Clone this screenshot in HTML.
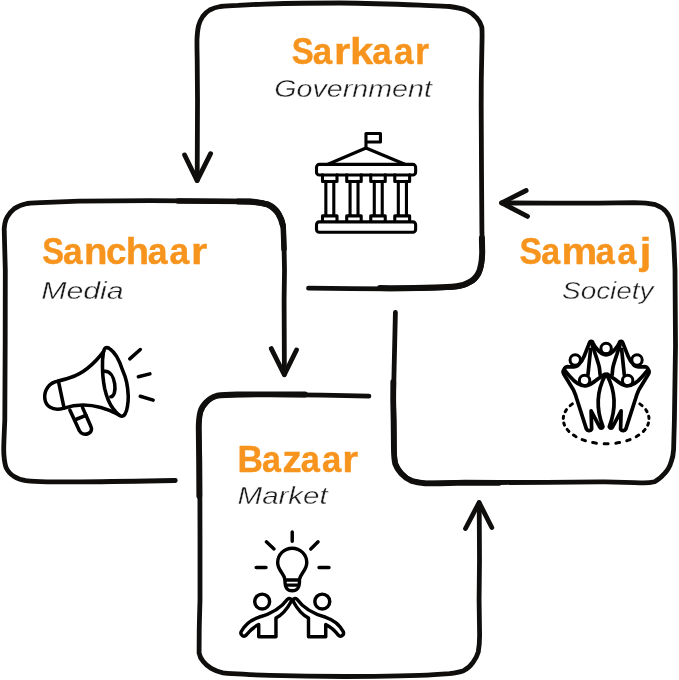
<!DOCTYPE html>
<html><head><meta charset="utf-8">
<style>
html,body{margin:0;padding:0;background:#fff;}
body{width:679px;height:680px;overflow:hidden;font-family:"Liberation Sans",sans-serif;}
svg{display:block;}
.ln{fill:none;stroke:#100e0c;stroke-width:4.8;stroke-linecap:round;stroke-linejoin:round;}
.ic{fill:none;stroke:#0a0a0a;stroke-width:2.2;stroke-linecap:round;stroke-linejoin:round;}
.t{font-family:"Liberation Sans",sans-serif;font-weight:bold;fill:#F7941D;font-size:36px;stroke:#F7941D;stroke-width:0.4px;}
.s{font-family:"Liberation Sans",sans-serif;font-style:italic;fill:#1c1c1c;font-size:23.9px;stroke:#fff;stroke-width:0.38px;}
</style></head>
<body>
<svg width="679" height="680" viewBox="0 0 679 680">
<rect width="679" height="680" fill="#fff"/>
<!-- SARKAAR PATH -->
<path class="ln" d="M197.2,180.5 L197.5,100 L197.2,60 C197,50 196.9,45 197,38.9 C197.3,33 197.8,29 198.5,25.9 C199.5,22 201,19 202.7,16.5 C204.5,14 207,11.5 209.7,10 C213,8.3 216.5,7.2 220.3,6.5 C226,5.8 232,5.5 238,5.3 C247,4.8 256,4.4 265,4.1 C290,3.4 315,3 340,3 C370,3.2 396,4.2 420,5.2 C432,5.7 442,6 449.5,6.5 C456,7.2 462,8.5 467.1,10.6 C471,12.3 474,14.7 476.5,17.7 C479,20.5 480.8,23.5 481.8,27.1 C482.3,31 482.1,40 481.9,47 L481.3,80 L481.2,106 L481.5,170 L481.9,231 L482.5,252 C482.6,262 481.5,268 478.9,273.6 C476.5,278 473.5,281 470,282.5 C466,285 461,286.3 456.8,286.9 C449,287.8 442,288 434.7,288.1 C430,288.3 425,288.5 420,288.7 C390,289 350,288.8 308.5,288.2"/>
<path class="ln" style="stroke-width:6" d="M380,288.1 C400,288.2 420,288 434.7,287.5 C442,287.4 449,287.2 456.6,286.3 C461,285.7 465.8,284.4 469.6,282 C473,280.5 476,277.6 478.4,273.3 C481,267.8 482,262 482.2,252 L481.9,238"/>
<path class="ln" d="M184.6,155 L197.1,180.6 L210.6,153.7"/>
<!-- SANCHAAR PATH -->
<path class="ln" d="M175.3,480.5 C150,481 120,481.6 80,481.8 L47,481.8 C40,481.7 33,481.5 25.9,480.7 C21.5,480 17.5,478.8 14.1,476.5 C10.5,474.3 7.8,471.5 5.9,467.1 C4.5,462.5 3.8,457 3.7,449.5 C3.8,442 4.3,432 4.8,420 L5.2,340 L5.3,270 C5,255 4.5,240 4.2,229 C4.5,224 5.5,220 7.1,217.1 C9,213.5 11.3,211 14.1,208.8 C18,206 22,204.5 27.1,203.5 C33,202.8 40,202.6 47.1,202.4 C58,201.9 69,201.5 80,201.2 C100,200.9 130,200.7 150,200.6 C190,200.7 225,201 250,201.4 C257,201.8 263,202.8 268,204.4 C272.5,206.5 276,209.5 278.6,213.6 C281,217.5 282.6,222 283.3,227.1 C283.8,235 283.9,245 284.1,249 L284.5,270 L284.1,300 L284.4,374.5"/>
<path class="ln" d="M271.3,348.6 L284.3,374.8 L296.5,350"/>
<path class="ln" style="stroke-width:5.5" d="M178,201 C200,201 225,201.2 250,201.6 C257,202 263,203 268,204.5 C272.5,206.6 276,209.6 278.5,213.7 C280.9,217.6 282.5,222 283.2,227.1 C283.7,235 283.8,245 284,249"/>
<path class="ln" style="stroke-width:6.2" d="M238,201.5 L250,201.7 C257,202.1 263,203.1 268,204.6 C272.5,206.7 276,209.7 278.4,213.8 C280.6,217.4 282,221 282.8,225"/>
<!-- BAZAAR PATH -->
<path class="ln" d="M368.9,396.2 C340,395.4 300,394.8 270,394.6 L237,394.8 C229,394.9 222.5,395 217.1,395.9 C212.5,397.3 209,399.5 206.5,402.4 C203.5,405.3 201.6,408.3 200.6,411.8 C199.5,416 199,421 199,427 C199.2,440 199.6,450 199.8,460 L200,540 L200,600 C199.6,615 199.2,625 199.2,635 L199.1,653 C199.8,656.5 201,659 203,661.2 C205.5,664.3 208,666.5 211.2,668.3 C215,670.5 219,672 223,672.8 C230,673.5 237,673.9 243,674.2 C253,674.8 262,675.2 270,675.4 C300,676.3 325,676.5 345,676.5 C390,676.4 420,675.6 434,674.6 C440,674.2 445,673.9 449.4,673.6 C455,673 460,672 463.6,670.7 C467.5,668.8 470.5,666 473,662.4 C475.5,659 477.3,655.5 478.3,651.8 C479.2,647 479.6,641 479.6,635.3 L479.1,600 L479.5,560 L479.2,503"/>
<path class="ln" style="stroke-width:5.8" d="M305,394.5 L270,394.3 L237,394.5 C229,394.6 222.5,394.8 217,395.7 C212.4,397.1 208.8,399.3 206.3,402.2 C203.3,405.1 201.4,408.2 200.4,411.7 C199.3,416 198.8,421 198.7,427 L199.1,460 L199.3,496"/>
<path class="ln" d="M465.5,528.5 L479.1,502.5 L491.8,527.5"/>
<!-- SAMAAJ PATH -->
<path class="ln" d="M501.6,203 C530,203 570,203.1 599,203.1 C615,203 625,202.8 634,202.7 C642,202.8 649,203.3 655.5,204.7 C660,206.2 663.5,208.7 666.1,211.8 C668.8,215 670.5,218.8 671.4,223 C672.5,229 673.2,236 673.8,243 L675,270 L675.5,346 C675.2,380 674.8,405 674.4,420 L673.6,449.5 C673.3,454 672.6,458 671.4,461.2 C670,466 668,470 665,473 C662,476.5 658.5,479.8 654.4,481.8 C650,483 645,483.1 640,482.9 L634.3,482.7 C620,482.3 610,482 599,481.8 C570,482.2 530,482.6 500,482.5 L465,482.3 C455,482.6 445,482.9 440,483 C435,483.2 430,483.2 425,483 C420,482.6 416,481.9 412.1,480.7 C408,479 404.5,476.5 401.5,473 C398.8,470 396.8,467 395.6,463.6 C394.7,459.5 394.4,455 394.3,449.5 L394,420 L393.4,400 L395.4,312.5"/>
<path class="ln" style="stroke-width:5.8" d="M393.3,382 L393.2,400 L393.6,420 L393.9,449.5 C394,455 394.3,459.5 395.2,463.7 C396.4,467.2 398.4,470.2 401.1,473.3 C404.2,476.8 407.8,479.3 411.9,481 C415.8,482.2 420,482.9 425,483.3 C430,483.5 435,483.5 440,483.3 C445,483.2 455,482.9 465,482.6 L499,482.8"/>
<path class="ln" d="M526.2,190.5 L501.6,202.9 L527.5,216.4"/>

<!-- GOVERNMENT ICON (coords in 5.658x zoom space, offset 305,125) -->
<g transform="translate(305,125) scale(0.17673)" fill="none" stroke="#000" stroke-width="17.5" stroke-linecap="round" stroke-linejoin="round">
  <path d="M345,125 V48 H427 V96 H345"/>
  <path d="M130,222 L345,130 L565,222"/>
  <rect x="65" y="223" width="561" height="60" rx="16"/>
  <rect x="65" y="548" width="561" height="59" rx="16"/>
  <path d="M99,282 V320 H181 V282 M236,282 V320 H318 V282 M372,282 V320 H454 V282 M508,282 V320 H592 V282"/>
  <path d="M99,545 V514 H181 V545 M236,545 V514 H318 V545 M372,545 V514 H454 V545 M508,545 V514 H592 V545"/>
  <path d="M118,318 V512 M163,318 V512 M255,318 V512 M300,318 V512 M392,318 V512 M437,318 V512 M528,318 V512 M574,318 V512"/>
</g>
<!-- MEGAPHONE ICON (5.223x zoom space, offset 35,335) -->
<g transform="translate(35,335) scale(0.19146)" fill="none" stroke="#000" stroke-width="18.5" stroke-linecap="round" stroke-linejoin="round">
  <path d="M375.5,66 C362,66 356,85 356,103 C352,125 352,145 352.5,164 C352.5,185 353,200 355,218 C357,240 360,260 364,280 C369,302 375,322 383,341 C390,358 399,374 410,387 C420,400 433,418 445,421.6 C448,423.5 450,424 452.3,424 C462,424 468,418 471.5,410 C478,398 481,385 483,372 C486,354 487.5,336 487,318 C486,295 483.5,272 479,249 C474,224 466,202 456,180 C448,155 438,132 425.5,110.6 C416,96 406,84 394.7,76 C388,70 381,66 375.5,66 Z"/>
  <path d="M362,190 C425,185 432,322 396,323"/>
  <path d="M360,84 C310,150 255,200 185,222 C160,230 140,236 122,240"/>
  <path d="M152,382 C250,350 350,370 440,418"/>
  <path d="M122,240 C20,255 25,420 152,382 Z"/>
  <path d="M182,392 L232,500 C250,535 310,515 292,478 L248,378"/>
  <path d="M216,440 L266,420"/>
  <path d="M495,125 L550,76 M540,218 L600,203 M550,320 L617,340"/>
</g>
<!-- BAZAAR ICON (5.223x zoom space, offset 230,525) -->
<g transform="translate(230,525) scale(0.19146)" fill="none" stroke="#000" stroke-width="18" stroke-linecap="round" stroke-linejoin="round">
  <path d="M325,36 V85 M190,88 L230,125 M460,88 L422,125 M137,222 H188 M465,222 H517"/>
  <path d="M288,287 C283,252 249,238 249,196 A76,75 0 0 1 401,196 C401,238 367,252 362,287 Z"/>
  <path d="M287,290 C287,330 298,343 325,343 C352,343 363,330 363,290 M294,314 H356"/>
  <circle cx="168" cy="400" r="39"/>
  <circle cx="482" cy="400" r="39"/>
  <path d="M58,558 C80,515 110,495 150,482 C230,460 270,430 300,388 C312,378 326,388 318,402 C295,445 270,470 240,486 V584 H150 V520 C120,535 100,555 85,575 C72,588 52,575 58,558 Z"/>
  <path d="M592,558 C570,515 540,495 500,482 C420,460 380,430 350,388 C338,378 324,388 332,402 C355,445 380,470 410,486 V584 H500 V520 C530,535 550,555 565,575 C578,588 598,575 592,558 Z"/>
</g>
<!-- SOCIETY ICON (5.667x zoom space, offset 550,330) -->
<g transform="translate(550,330) scale(0.17647)" fill="none" stroke="#000" stroke-width="21" stroke-linecap="round" stroke-linejoin="round">
  <path d="M114.2,428.8 A243,140 0 0 1 127.0,418.4 M86.0,463.4 A243,140 0 0 1 93.5,451.4 M75.1,501.1 A243,140 0 0 1 76.7,488.4 M82.3,539.1 A243,140 0 0 1 77.9,526.7 M107.1,574.6 A243,140 0 0 1 97.1,563.3 M147.7,604.9 A243,140 0 0 1 132.7,595.6 M200.9,627.7 A243,140 0 0 1 182.1,621.1 M262.9,641.4 A243,140 0 0 1 241.7,637.9 M329.0,644.9 A243,140 0 0 1 307.0,644.9 M394.3,637.9 A243,140 0 0 1 373.1,641.4 M453.9,621.1 A243,140 0 0 1 435.1,627.7 M503.3,595.6 A243,140 0 0 1 488.3,604.9 M538.9,563.3 A243,140 0 0 1 528.9,574.6 M558.1,526.7 A243,140 0 0 1 553.7,539.1 M559.3,488.4 A243,140 0 0 1 560.9,501.1 M542.5,451.4 A243,140 0 0 1 550.0,463.4 M509.0,418.4 A243,140 0 0 1 521.8,428.8" stroke-width="17"/>
  <circle cx="318" cy="105" r="29.5" stroke-width="17"/>
  <circle cx="143" cy="170" r="29.5" stroke-width="17"/>
  <circle cx="493" cy="170" r="29.5" stroke-width="17"/>
  <circle cx="196" cy="286" r="29.5" stroke-width="17"/>
  <circle cx="440" cy="286" r="29.5" stroke-width="17"/>
  <path d="M81,236 C75,222 85,210 99,208 C116,208 142,215 162,197 C178,181 187,164 194,147 L222,77 C226,60 240,61 244,74 C250,90 262,102 270,112 C284,129 300,140 318,140"/>
  <path d="M 555,236 C 561,222 551,210 537,208 C 520,208 494,215 474,197 C 458,181 449,164 442,147 L 414,77 C 410,60 396,61 392,74 C 386,90 374,102 366,112 C 352,129 336,140 318,140"/>
  <path d="M239,84 C246,105 252,122 257,138 C268,170 276,195 280,214 L284,254"/>
  <path d="M 397,84 C 390,105 384,122 379,138 C 368,170 360,195 356,214 L 352,254"/>
  <path d="M230,110 L215,254"/>
  <path d="M 406,110 L 421,254"/>
  <path d="M86,232 C100,250 120,272 135.5,286.4 C150,300 165,310 180.5,313.5 C190,316.5 197,317 203,317 C212,316.5 218,313 225.6,309 C245,298 258,288 270.7,277.4 L312,250"/>
  <path d="M 550,232 C 536,250 516,272 500.5,286.4 C 486,300 471,310 455.5,313.5 C 446,316.5 439,317 433,317 C 424,316.5 418,313 410.4,309 C 391,298 378,288 365.3,277.4 L 324,250"/>
  <path d="M82,224 C74,230 73,240 77,248 L133,340 C140,356 146,370 150,385 L206,560 C212,572 228,574 236,562 L233,458 L282,550 C285,558 295,560 300,548 C262,450 262,350 314,254"/>
  <path d="M 554,224 C 562,230 563,240 559,248 L 503,340 C 496,356 490,370 486,385 L 430,560 C 424,572 408,574 400,562 L 403,458 L 354,550 C 351,558 341,560 336,548 C 374,450 374,350 322,254"/>
</g>

<!-- TEXT -->
<g id="txt" style="will-change:transform">
<text class="t" x="291.7" y="64.1" textLength="21.94" lengthAdjust="spacingAndGlyphs">S</text>
<text class="t" x="312.8" y="64.1" textLength="19.42" lengthAdjust="spacingAndGlyphs">a</text>
<text class="t" x="333.9" y="64.1" textLength="16.24" lengthAdjust="spacingAndGlyphs">r</text>
<text class="t" x="350.0" y="64.1" textLength="23.22" lengthAdjust="spacingAndGlyphs">k</text>
<text class="t" x="372.2" y="64.1" textLength="19.42" lengthAdjust="spacingAndGlyphs">a</text>
<text class="t" x="394.0" y="64.1" textLength="19.52" lengthAdjust="spacingAndGlyphs">a</text>
<text class="t" x="415.1" y="64.1" textLength="14.00" lengthAdjust="spacingAndGlyphs">r</text>
<text class="t" x="42.2" y="264.3" textLength="21.72" lengthAdjust="spacingAndGlyphs">S</text>
<text class="t" x="63.1" y="264.3" textLength="19.62" lengthAdjust="spacingAndGlyphs">a</text>
<text class="t" x="84.0" y="264.3" textLength="23.46" lengthAdjust="spacingAndGlyphs">n</text>
<text class="t" x="106.1" y="264.3" textLength="20.46" lengthAdjust="spacingAndGlyphs">c</text>
<text class="t" x="125.8" y="264.3" textLength="23.34" lengthAdjust="spacingAndGlyphs">h</text>
<text class="t" x="147.7" y="264.3" textLength="19.82" lengthAdjust="spacingAndGlyphs">a</text>
<text class="t" x="169.4" y="264.3" textLength="19.72" lengthAdjust="spacingAndGlyphs">a</text>
<text class="t" x="190.9" y="264.3" textLength="16.24" lengthAdjust="spacingAndGlyphs">r</text>
<text class="t" x="519.6" y="263.8" textLength="22.37" lengthAdjust="spacingAndGlyphs">S</text>
<text class="t" x="541.2" y="263.8" textLength="18.92" lengthAdjust="spacingAndGlyphs">a</text>
<text class="t" x="561.6" y="263.8" textLength="35.78" lengthAdjust="spacingAndGlyphs">m</text>
<text class="t" x="595.8" y="263.8" textLength="19.02" lengthAdjust="spacingAndGlyphs">a</text>
<text class="t" x="617.5" y="263.8" textLength="18.92" lengthAdjust="spacingAndGlyphs">a</text>
<text class="t" x="639.8" y="263.8" textLength="11.61" lengthAdjust="spacingAndGlyphs">j</text>
<text class="t" x="237.6" y="471.5" textLength="25.43" lengthAdjust="spacingAndGlyphs">B</text>
<text class="t" x="262.1" y="471.5" textLength="18.92" lengthAdjust="spacingAndGlyphs">a</text>
<text class="t" x="282.6" y="471.5" textLength="19.12" lengthAdjust="spacingAndGlyphs">z</text>
<text class="t" x="300.8" y="471.5" textLength="19.12" lengthAdjust="spacingAndGlyphs">a</text>
<text class="t" x="321.9" y="471.5" textLength="19.32" lengthAdjust="spacingAndGlyphs">a</text>
<text class="t" x="342.3" y="471.5" textLength="15.87" lengthAdjust="spacingAndGlyphs">r</text>
<text class="s" x="274.2" y="97.1" textLength="157.8" lengthAdjust="spacingAndGlyphs">Government</text>
<text class="s" x="41.2" y="298.6" textLength="82.5" lengthAdjust="spacingAndGlyphs">Media</text>
<text class="s" x="562" y="298.9" textLength="91.6" lengthAdjust="spacingAndGlyphs">Society</text>
<text class="s" x="237.6" y="504.3" textLength="90.1" lengthAdjust="spacingAndGlyphs">Market</text>
</g>
</svg>
</body></html>
